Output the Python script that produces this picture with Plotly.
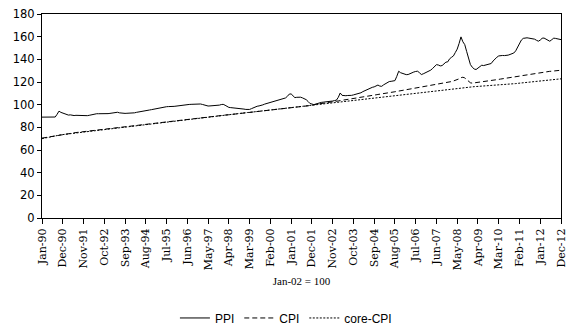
import plotly.graph_objects as go

# Monthly index values, Jan-1990 .. Dec-2012 (Jan-02 = 100)
months = ["Jan", "Feb", "Mar", "Apr", "May", "Jun", "Jul", "Aug", "Sep", "Oct", "Nov", "Dec"]
years = list(range(1990, 2013))
month_labels = [f"{m}-{str(y)[2:]}" for y in years for m in months]

ppi = [
    89.0, 89.0, 89.0, 89.0, 89.0, 89.0, 89.0, 89.1, 91.5, 94.3, 93.2, 92.6,
    91.6, 91.0, 90.8, 91.0, 90.6, 90.4, 90.6, 90.5, 90.3, 90.1, 90.0, 90.2,
    90.3, 90.6, 91.0, 91.5, 91.8, 92.0, 92.0, 91.9, 92.0, 92.1, 92.0, 92.1,
    92.3, 92.5, 92.7, 93.0, 93.3, 92.8, 92.5, 92.4, 92.3, 92.4, 92.4, 92.5,
    92.6, 92.8, 93.2, 93.6, 94.0, 94.3, 94.6, 94.8, 95.0, 95.3, 95.6, 96.0,
    96.3, 96.7, 97.1, 97.5, 97.8, 98.0, 98.2, 98.3, 98.2, 98.3, 98.5, 98.7,
    99.0, 99.3, 99.6, 99.9, 100.1, 100.2, 100.2, 100.3, 100.4, 100.5, 100.6, 100.6,
    100.6, 100.2, 99.6, 99.0, 98.8, 98.9, 99.0, 99.0, 99.1, 99.2, 99.6, 100.1,
    100.3, 99.5, 98.3, 97.6, 97.4, 97.3, 97.2, 97.0, 96.8, 96.6, 96.3, 96.1,
    95.8, 95.6, 95.8, 96.5, 97.3, 98.2, 98.6, 98.9, 99.2, 99.8, 100.5, 101.0,
    101.4, 101.6, 102.0, 102.6, 103.2, 103.8, 104.2, 104.8, 105.5, 105.9, 107.3, 109.3,
    109.5, 107.8, 106.2, 106.5, 106.8, 106.6, 106.0, 105.2, 104.4, 102.8, 101.0, 100.6,
    100.0, 100.5, 101.2, 101.8, 102.0, 102.2, 102.3, 102.5, 102.7, 102.9, 103.2, 103.6,
    104.0, 106.5, 110.3, 108.2, 107.8, 107.9, 108.1, 108.0, 108.2, 108.6, 109.1, 109.6,
    109.7, 110.5, 111.5, 112.3, 113.4, 114.0, 114.5, 115.3, 115.7, 116.3, 117.3, 116.4,
    116.2, 117.5, 118.5, 119.8, 120.4, 120.6, 121.0, 121.2, 125.0, 129.5, 128.2, 127.5,
    127.0, 126.5, 126.6, 127.5, 128.4, 128.8, 129.3, 129.5, 128.2, 126.6, 127.2, 128.0,
    128.6, 129.2, 130.5, 132.0, 133.8, 135.3, 135.0, 134.2, 134.5, 136.0, 137.5, 137.8,
    140.5, 141.8, 143.0, 146.0, 149.0, 154.0, 159.8, 155.5, 153.0, 147.0, 140.0, 135.4,
    133.0, 131.5, 131.0, 132.3, 133.4, 134.8, 134.5, 135.0, 135.4, 135.6, 136.3, 138.5,
    140.5, 141.8, 143.0, 143.5, 143.4, 143.3, 143.4, 143.7, 144.3, 145.0, 145.6, 147.5,
    151.0, 154.0, 157.0, 158.5, 158.8, 159.0, 158.7, 158.3, 158.5, 157.8, 156.8, 156.0,
    157.0, 158.6, 158.8, 157.8, 156.5, 156.0, 157.0, 158.7, 158.5, 158.0, 157.6, 157.4,
]

cpi = [
    70.5, 70.8, 71.1, 71.5, 71.8, 72.1, 72.4, 72.7, 73.0, 73.3, 73.5, 73.7,
    74.0, 74.2, 74.5, 74.7, 75.0, 75.2, 75.4, 75.6, 75.8, 76.0, 76.2, 76.4,
    76.6, 76.8, 77.0, 77.2, 77.4, 77.6, 77.8, 78.0, 78.2, 78.4, 78.6, 78.8,
    79.0, 79.2, 79.4, 79.6, 79.8, 80.0, 80.2, 80.4, 80.6, 80.8, 81.0, 81.2,
    81.4, 81.6, 81.8, 82.0, 82.2, 82.4, 82.6, 82.8, 83.0, 83.2, 83.4, 83.6,
    83.8, 84.0, 84.2, 84.4, 84.6, 84.8, 85.0, 85.2, 85.4, 85.6, 85.8, 86.0,
    86.2, 86.4, 86.6, 86.8, 87.0, 87.2, 87.4, 87.6, 87.8, 88.0, 88.2, 88.4,
    88.6, 88.8, 89.0, 89.1, 89.3, 89.5, 89.7, 89.8, 90.0, 90.2, 90.3, 90.5,
    90.7, 90.8, 91.0, 91.1, 91.3, 91.4, 91.6, 91.7, 91.9, 92.0, 92.2, 92.3,
    92.5, 92.6, 92.8, 93.0, 93.1, 93.3, 93.5, 93.6, 93.8, 94.0, 94.2, 94.4,
    94.6, 94.8, 95.0, 95.2, 95.4, 95.6, 95.8, 96.0, 96.2, 96.4, 96.6, 96.8,
    97.0, 97.2, 97.4, 97.7, 97.9, 98.1, 98.3, 98.5, 98.8, 99.0, 99.2, 99.4,
    100.0, 100.2, 100.5, 100.8, 101.0, 101.2, 101.5, 101.7, 102.0, 102.2, 102.5, 102.7,
    103.0, 103.3, 103.6, 103.8, 104.1, 104.4, 104.7, 105.0, 105.3, 105.5, 105.8, 106.0,
    106.3, 106.5, 106.8, 107.1, 107.4, 107.7, 108.0, 108.2, 108.5, 108.7, 109.0, 109.2,
    109.5, 109.7, 110.0, 110.3, 110.5, 110.8, 111.1, 111.4, 111.7, 112.0, 112.2, 112.4,
    112.6, 112.9, 113.2, 113.5, 113.8, 114.1, 114.3, 114.6, 114.9, 115.1, 115.4, 115.7,
    116.0, 116.3, 116.6, 116.9, 117.2, 117.5, 117.8, 118.1, 118.4, 118.8, 119.2, 119.6,
    120.0, 120.4, 120.9, 121.4, 122.0, 122.8, 123.8, 124.2, 123.6, 122.2, 120.5, 119.3,
    119.0, 119.2, 119.4, 119.6, 119.8, 120.1, 120.2, 120.4, 120.6, 120.9, 121.2, 121.5,
    121.8, 122.0, 122.3, 122.6, 122.8, 123.0, 123.3, 123.5, 123.8, 124.0, 124.3, 124.6,
    124.9, 125.2, 125.5, 125.8, 126.1, 126.4, 126.7, 127.0, 127.3, 127.6, 127.9, 128.1,
    128.4, 128.6, 128.8, 129.0, 129.2, 129.4, 129.5, 129.7, 129.9, 130.0, 130.2, 130.4,
]

core_cpi = [
    70.0, 70.4, 70.8, 71.2, 71.6, 72.0, 72.3, 72.6, 72.9, 73.2, 73.4, 73.6,
    73.8, 74.1, 74.3, 74.6, 74.8, 75.1, 75.3, 75.5, 75.7, 75.9, 76.1, 76.3,
    76.5, 76.7, 76.9, 77.1, 77.3, 77.5, 77.7, 77.9, 78.1, 78.3, 78.5, 78.7,
    78.9, 79.1, 79.3, 79.5, 79.7, 79.9, 80.1, 80.3, 80.5, 80.7, 80.9, 81.1,
    81.3, 81.5, 81.7, 81.9, 82.1, 82.3, 82.5, 82.7, 82.9, 83.1, 83.3, 83.5,
    83.7, 83.9, 84.1, 84.3, 84.5, 84.7, 84.9, 85.1, 85.3, 85.5, 85.7, 85.9,
    86.1, 86.3, 86.5, 86.7, 86.9, 87.1, 87.3, 87.5, 87.7, 87.9, 88.1, 88.3,
    88.5, 88.7, 88.9, 89.1, 89.3, 89.5, 89.7, 89.9, 90.1, 90.3, 90.5, 90.6,
    90.8, 91.0, 91.2, 91.3, 91.5, 91.7, 91.9, 92.0, 92.2, 92.4, 92.5, 92.7,
    92.9, 93.1, 93.2, 93.4, 93.6, 93.8, 93.9, 94.1, 94.3, 94.5, 94.6, 94.8,
    95.0, 95.2, 95.4, 95.6, 95.8, 96.0, 96.2, 96.4, 96.6, 96.8, 97.0, 97.2,
    97.4, 97.6, 97.8, 98.0, 98.2, 98.4, 98.6, 98.8, 99.0, 99.2, 99.4, 99.7,
    100.0, 100.2, 100.4, 100.5, 100.7, 100.9, 101.1, 101.3, 101.5, 101.7, 101.9, 102.1,
    102.3, 102.5, 102.7, 102.9, 103.1, 103.3, 103.5, 103.7, 103.9, 104.1, 104.3, 104.5,
    104.7, 104.8, 105.0, 105.2, 105.4, 105.5, 105.7, 105.9, 106.1, 106.2, 106.4, 106.6,
    106.8, 107.0, 107.1, 107.3, 107.5, 107.7, 107.9, 108.0, 108.2, 108.4, 108.6, 108.8,
    109.0, 109.2, 109.3, 109.5, 109.7, 109.9, 110.1, 110.3, 110.5, 110.7, 110.9, 111.1,
    111.3, 111.5, 111.7, 111.9, 112.1, 112.3, 112.5, 112.7, 112.9, 113.1, 113.3, 113.5,
    113.7, 113.9, 114.1, 114.3, 114.5, 114.7, 114.9, 115.1, 115.3, 115.5, 115.6, 115.7,
    115.8, 115.9, 116.0, 116.1, 116.2, 116.3, 116.4, 116.5, 116.6, 116.7, 116.8, 117.0,
    117.1, 117.2, 117.4, 117.5, 117.6, 117.8, 117.9, 118.0, 118.2, 118.3, 118.5, 118.6,
    118.8, 119.0, 119.2, 119.4, 119.6, 119.8, 120.0, 120.2, 120.4, 120.6, 120.8, 121.0,
    121.2, 121.3, 121.5, 121.6, 121.8, 121.9, 122.1, 122.2, 122.4, 122.5, 122.7, 122.8,
]

tick_step = 11
x_idx = list(range(len(month_labels)))
tick_positions = x_idx[::tick_step]
tick_text = [month_labels[i] for i in tick_positions]

fig = go.Figure()
fig.add_trace(go.Scatter(x=x_idx, y=ppi, name="PPI", mode="lines",
                         line=dict(color="black", width=1)))
fig.add_trace(go.Scatter(x=x_idx, y=cpi, name="CPI", mode="lines",
                         line=dict(color="black", width=1, dash="5px,3px")))
fig.add_trace(go.Scatter(x=x_idx, y=core_cpi, name="core-CPI", mode="lines",
                         line=dict(color="black", width=1, dash="2px,1.5px")))

fig.update_layout(
    width=576, height=336,
    margin=dict(l=42, r=15, t=14, b=118, autoexpand=False),
    paper_bgcolor="white", plot_bgcolor="white",
    showlegend=True,
    legend=dict(orientation="h", x=0.47, xanchor="center", y=-0.49, yanchor="middle",
                font=dict(family="Liberation Sans", size=12, color="black"),
                itemwidth=30, tracegroupgap=0),
    xaxis=dict(
        range=[0, len(month_labels) - 1],
        tickmode="array", tickvals=tick_positions, ticktext=tick_text,
        tickangle=-90, ticks="outside", ticklen=5, tickcolor="black",
        showline=True, linecolor="black", linewidth=1, mirror=True,
        showgrid=False, zeroline=False,
        tickfont=dict(family="DejaVu Serif", size=11, color="black"),
        title=dict(text="Jan-02 = 100", standoff=8,
                   font=dict(family="Liberation Serif", size=11, color="black")),
        automargin=False,
    ),
    yaxis=dict(
        range=[0, 180], dtick=20, ticks="outside", ticklen=4, tickcolor="black",
        showline=True, linecolor="black", linewidth=1, mirror=True,
        showgrid=False, zeroline=False,
        tickfont=dict(family="DejaVu Sans", size=11.5, color="black"),
        automargin=False,
    ),
)

fig.write_html("out.html")
